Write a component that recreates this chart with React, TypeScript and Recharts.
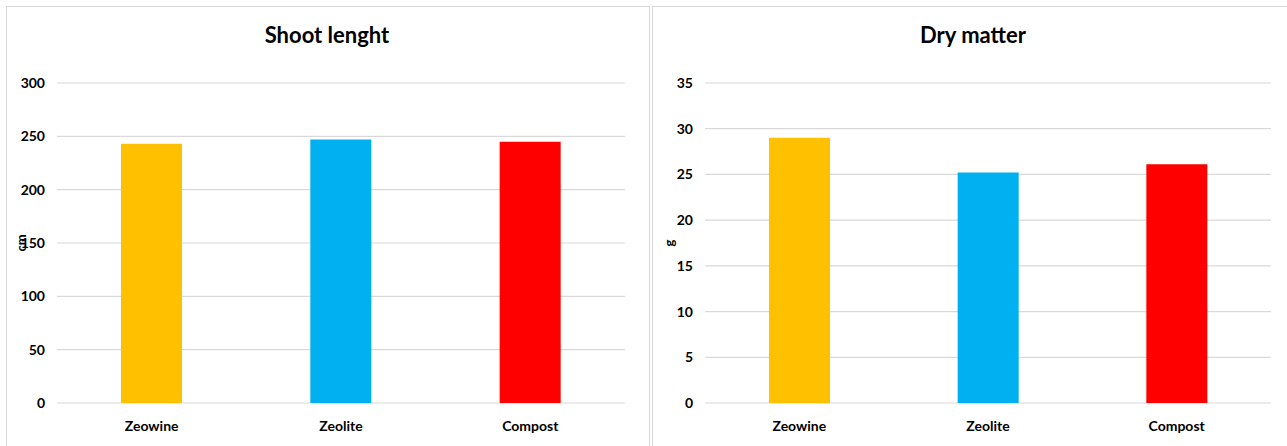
import { BarChart, Bar, XAxis, YAxis, CartesianGrid, Cell } from "recharts";

const categories = ["Zeowine", "Zeolite", "Compost"];
const shootLength = [243, 247, 245];
const dryMatter = [29, 25.2, 26.1];
const barColors = ["#FFC000", "#00B0F0", "#FF0000"];
const shootTicks = [0, 50, 100, 150, 200, 250, 300];
const dryTicks = [0, 5, 10, 15, 20, 25, 30, 35];

const FONT = "Lato, 'Noto Sans', sans-serif";

interface PanelProps {
  title: string;
  unit: string;
  values: number[];
  ticks: number[];
  left: number;
  width: number;
  marginLeft: number;
}

function Panel({ title, unit, values, ticks, left, width, marginLeft }: PanelProps) {
  const data = categories.map((name, i) => ({ name, value: values[i] }));
  const max = ticks[ticks.length - 1];
  return (
    <div
      style={{
        position: "absolute",
        left,
        top: 6,
        width,
        height: 460,
        border: "1px solid #d9d9d9",
        background: "#fff",
      }}
    >
      <div
        style={{
          position: "absolute",
          left: 0,
          top: 14,
          width: 640,
          textAlign: "center",
          fontFamily: FONT,
          fontWeight: 700,
          fontSize: 22,
          color: "#000",
        }}
      >
        {title}
      </div>
      <BarChart
        width={640}
        height={440}
        data={data}
        margin={{ top: 76, right: 22, bottom: 14, left: marginLeft }}
        style={{ position: "absolute", left: 0, top: 0 }}
      >
        <CartesianGrid vertical={false} stroke="#d9d9d9" strokeWidth={1.2} />
        <XAxis
          dataKey="name"
          axisLine={false}
          tickLine={false}
          height={30}
          tickMargin={12}
          tick={{ fill: "#000", fontSize: 14, fontWeight: 700, fontFamily: FONT }}
        />
        <YAxis
          width={50}
          domain={[0, max]}
          ticks={ticks}
          axisLine={false}
          tickLine={false}
          tickMargin={6}
          tick={{ fill: "#000", fontSize: 14, fontWeight: 700, fontFamily: FONT }}
          label={{
            value: unit,
            angle: -90,
            position: "insideLeft",
            offset: 14,
            style: { textAnchor: "middle", fontSize: 13, fontWeight: 700, fontFamily: FONT, fill: "#000" },
          }}
        />
        <Bar dataKey="value" barSize={61} isAnimationActive={false}>
          {data.map((d, i) => (
            <Cell key={d.name} fill={barColors[i]} />
          ))}
        </Bar>
      </BarChart>
    </div>
  );
}

export default function App() {
  return (
    <div style={{ position: "absolute", left: 0, top: 0, width: 1287, height: 446, overflow: "hidden", background: "#fff" }}>
      <Panel title="Shoot lenght" unit="cm" values={shootLength} ticks={shootTicks} left={6} width={642} marginLeft={0} />
      <Panel title="Dry matter" unit="g" values={dryMatter} ticks={dryTicks} left={652} width={648} marginLeft={2} />
    </div>
  );
}
